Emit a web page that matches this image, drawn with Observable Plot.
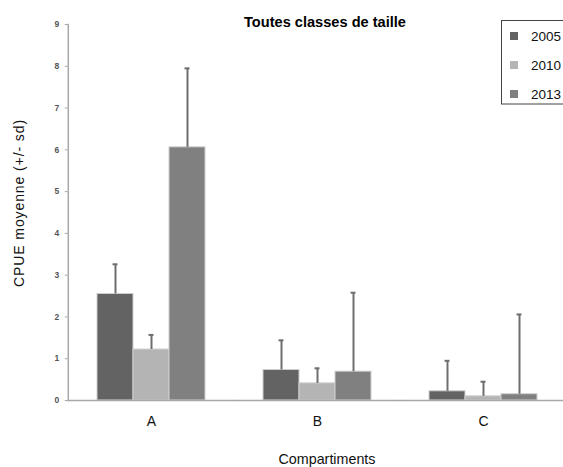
<!DOCTYPE html>
<html>
<head>
<meta charset="utf-8">
<script src="https://cdn.jsdelivr.net/npm/d3@7"></script>
<script src="https://cdn.jsdelivr.net/npm/@observablehq/plot@0.6"></script>
<style>
html, body { margin: 0; padding: 0; background: #fff; overflow: hidden; }
#wrap { position: relative; width: 563px; height: 467px; overflow: hidden; font-family: "Liberation Sans", Arial, sans-serif; }
#wrap > svg { position: absolute; left: 0; top: 0; }
</style>
</head>
<body>
<div id="wrap"></div>
<script>
// ---- data ----
const title = "Toutes classes de taille";
const xTitle = "Compartiments";
const yTitle = "CPUE moyenne  (+/- sd)";
const categories = ["A", "B", "C"];
const years = ["2005", "2010", "2013"];
const mean2005 = [2.55, 0.73, 0.22];
const mean2010 = [1.22, 0.41, 0.10];
const mean2013 = [6.06, 0.69, 0.15];
const sd2005 = [0.71, 0.71, 0.73];
const sd2010 = [0.35, 0.36, 0.35];
const sd2013 = [1.89, 1.89, 1.91];
const yTicks = [0, 1, 2, 3, 4, 5, 6, 7, 8, 9];
const yearColors = ["#636363", "#b4b4b4", "#808080"];

const means = [mean2005, mean2010, mean2013];
const sds = [sd2005, sd2010, sd2013];
const rows = [];
years.forEach((yr, j) => categories.forEach((c, i) => {
  rows.push({cat: c, year: yr, mean: means[j][i], top: means[j][i] + sds[j][i]});
}));

// ---- layout ----
const W = 563, H = 467;
const mLeft = 68, mRight = -3, mTop = 24, mBottom = 67;
const padInner = 0.34, padOuter = padInner / 2;
const step = (W - mRight - mLeft) / (categories.length - padInner + 2 * padOuter);
const edge = padOuter * step; // distance from plot edge to first facet

const axisGray = "#a8a8a8";
const errColor = "#6e6e6e";

const chart = Plot.plot({
  width: W,
  height: H,
  marginLeft: mLeft,
  marginRight: mRight,
  marginTop: mTop,
  marginBottom: mBottom,
  style: {fontFamily: "'Liberation Sans', Arial, sans-serif", background: "transparent", overflow: "visible"},
  fx: {domain: categories, paddingInner: padInner, paddingOuter: padOuter, label: null},
  x: {domain: years, paddingInner: 0, paddingOuter: 0, axis: null},
  y: {domain: [0, 9], label: null},
  color: {domain: years, range: yearColors},
  marks: [
    Plot.barY(rows, {fx: "cat", x: "year", y: "mean", fill: "year", stroke: "#cfcfcf", strokeWidth: 1}),
    Plot.ruleX(rows, {fx: "cat", x: "year", y1: "mean", y2: "top", stroke: errColor, strokeWidth: 2}),
    Plot.tickY(rows, {fx: "cat", x: "year", y: "top", stroke: errColor, strokeWidth: 2, insetLeft: 15.5, insetRight: 15.5}),
    Plot.ruleY([0], {stroke: axisGray, strokeWidth: 1.5, insetLeft: -edge, insetRight: -edge}),
    Plot.frame({anchor: "left", fx: "A", stroke: axisGray, strokeWidth: 1.5, insetLeft: -edge}),
    Plot.axisY(yTicks, {tickSize: 3, tickPadding: 6, fontSize: 8.5, fontWeight: "bold", fill: "#555", stroke: axisGray, dx: -edge, label: null}),
    Plot.axisFx({anchor: "bottom", tickSize: 0, tickPadding: 16, fontSize: 14, fill: "#111", label: null})
  ]
});
document.getElementById("wrap").appendChild(chart);

// ---- overlay texts and legend ----
const ov = d3.select("#wrap").append("svg")
  .attr("width", W).attr("height", H)
  .style("pointer-events", "none")
  .style("font-family", "'Liberation Sans', Arial, sans-serif");

ov.append("text").attr("x", 325).attr("y", 26.5)
  .attr("text-anchor", "middle").attr("font-weight", "bold").attr("font-size", 14.6)
  .attr("fill", "#000").text(title);

ov.append("text").attr("transform", "translate(24,203) rotate(-90)")
  .attr("text-anchor", "middle").attr("font-size", 14).attr("letter-spacing", 0.9)
  .attr("fill", "#111").text(yTitle);

ov.append("text").attr("x", 327).attr("y", 464)
  .attr("text-anchor", "middle").attr("font-size", 14.3)
  .attr("fill", "#111").text(xTitle);

const lg = ov.append("g");
lg.append("rect").attr("x", 501.5).attr("y", 20.5).attr("width", 80).attr("height", 83.5)
  .attr("fill", "#fff").attr("stroke", "#444").attr("stroke-width", 1);
years.forEach((yr, i) => {
  const cy = 36 + i * 29;
  lg.append("rect").attr("x", 510).attr("y", cy - 4).attr("width", 8).attr("height", 8)
    .attr("fill", yearColors[i]);
  lg.append("text").attr("x", 531).attr("y", cy + 5).attr("font-size", 13.5)
    .attr("fill", "#111").text(yr);
});
</script>
</body>
</html>
